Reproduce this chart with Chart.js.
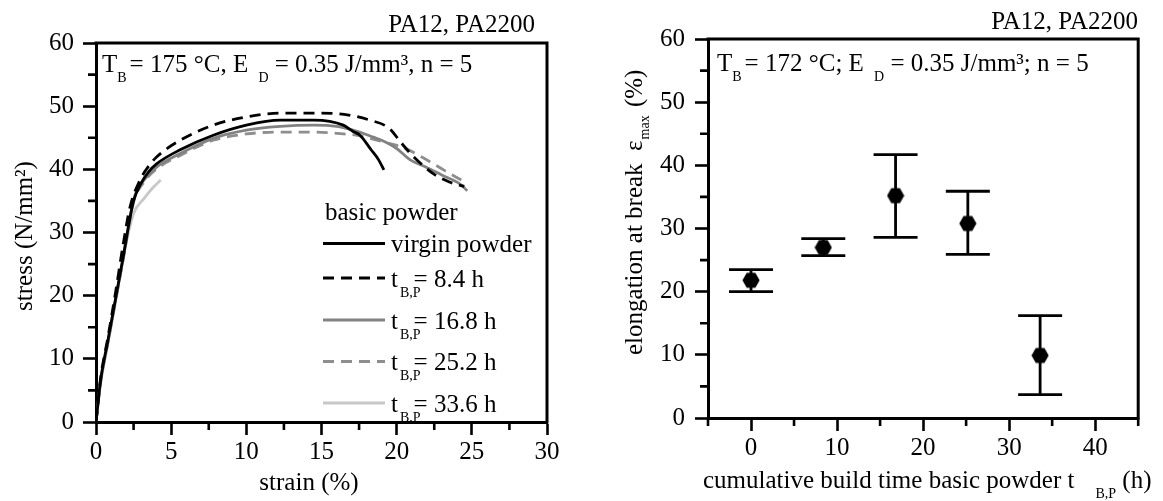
<!DOCTYPE html>
<html><head><meta charset="utf-8">
<script src="https://cdn.jsdelivr.net/npm/chart.js@4/dist/chart.umd.min.js"></script>
<style>
html,body{margin:0;padding:0;background:#fff;width:1163px;height:501px;overflow:hidden}
#c1{position:absolute;left:0;top:0}
#c2{position:absolute;left:580px;top:0}
</style></head><body>
<canvas id="c1" width="580" height="501"></canvas>
<canvas id="c2" width="583" height="501"></canvas>
<script>
// ---------- Left chart data: stress-strain curves ----------
const strainVirgin = [0,0.3,0.8,1.3,1.8,2.2,2.5,3.0,3.5,4.05,5.6,7.8,10.0,12.25,14.5,16.45,17.1,17.56,18.3,18.8,19.15];
const stressVirgin = [0,6.5,13,19.5,26,31.5,35.0,37.8,39.6,40.9,43.1,45.4,47.0,47.8,47.8,47.0,46.0,45.4,43.1,41.5,39.9];
const strain84 = [0,0.3,0.8,1.3,1.8,2.27,2.93,3.5,4.05,5.6,7.8,10.0,12.25,14.5,16.5,18.2,19.5,20.3,21.0,21.8,22.5,23.5,24.5];
const stress84 = [0,6.8,13.5,20.5,28,34.1,38.3,40.5,42,44.6,47.0,48.3,48.9,48.9,48.7,47.8,46.5,44.2,42.3,40.5,39.2,38.0,37.3];
const strain168 = [0,0.3,0.8,1.3,1.8,2.5,3.2,4.05,5.6,7.8,10.0,12.25,14.5,16.0,17.1,18.45,19.0,20.0,20.9,21.9,23.0,24.2,24.7];
const stress168 = [0,6.3,12.8,19.3,25.8,35.2,38.3,40.4,42.5,44.9,46.2,46.8,47.0,46.8,46.2,45.1,44.6,43.3,41.5,40.4,39.1,37.7,36.6];
const strain252 = [0,0.3,0.8,1.3,1.8,2.5,3.2,4.05,5.6,7.8,10.0,12.25,14.5,16.45,17.3,19.5,20.5,21.7,23.2,24.3];
const stress252 = [0,6.2,12.7,19.2,25.6,34.8,38.0,40.1,42.2,44.6,45.6,45.9,45.9,45.6,45.4,44.1,43.4,41.9,39.8,38.3];
const strain336 = [0,0.3,0.8,1.3,1.83,2.5,3.2,3.75,4.3];
const stress336 = [0,6,12.5,19,26.3,33.0,35.4,37.0,38.3];
const seriesNames = ['virgin powder','8.4 h','16.8 h','25.2 h','33.6 h'];
const leftXTicks = [0,5,10,15,20,25,30];
const leftYTicks = [0,10,20,30,40,50,60];

// ---------- Right chart data: elongation at break ----------
const buildTime = [0, 8.4, 16.8, 25.2, 33.6];
const elongMean = [21.8, 27.0, 35.2, 30.8, 9.9];
const elongLow  = [20.0, 25.7, 28.6, 25.9, 3.7];
const elongHigh = [23.5, 28.4, 41.7, 35.9, 16.2];
const rightXTicks = [0,10,20,30,40];
const rightYTicks = [0,10,20,30,40,50,60];

const FONT = '"Liberation Serif", "Times New Roman", serif';
const toXY = (xs, ys) => xs.map((x,i)=>({x, y: ys[i]}));

function drawRuns(ctx, runs, x, y, opt) {
  opt = opt || {};
  const size = opt.size || 25, sub = opt.subSize || 14, subDy = opt.subDy || 10;
  ctx.save();
  ctx.translate(x, y);
  if (opt.rot) ctx.rotate(opt.rot);
  ctx.fillStyle = '#000'; ctx.textBaseline = 'alphabetic'; ctx.textAlign = 'left';
  let total = 0;
  const w = runs.map(r => { ctx.font = (r.sub ? sub : size) + 'px ' + FONT; const m = ctx.measureText(r.t).width; total += (r.dx || 0) + m; return m; });
  let cx = opt.align === 'center' ? -total / 2 : opt.align === 'right' ? -total : 0;
  runs.forEach((r, i) => {
    cx += r.dx || 0;
    ctx.font = (r.sub ? sub : size) + 'px ' + FONT;
    ctx.fillText(r.t, cx, r.sub ? subDy : 0);
    cx += w[i];
  });
  ctx.restore();
}

function drawFrameAndMinor(chart, xMinor, yMinor) {
  const ctx = chart.ctx, a = chart.chartArea;
  const xs = chart.scales.x, ys = chart.scales.y;
  ctx.save();
  ctx.strokeStyle = '#000';
  ctx.lineWidth = 3;
  ctx.beginPath();
  ctx.moveTo(a.left - 1.5, a.top); ctx.lineTo(a.right, a.top); ctx.lineTo(a.right, a.bottom + 1.5);
  ctx.stroke();
  ctx.lineWidth = 2.6;
  ctx.beginPath();
  xMinor.forEach(v => { const p = xs.getPixelForValue(v); ctx.moveTo(p, a.bottom); ctx.lineTo(p, a.bottom + 8); });
  yMinor.forEach(v => { const p = ys.getPixelForValue(v); ctx.moveTo(a.left, p); ctx.lineTo(a.left - 8, p); });
  ctx.stroke();
  ctx.restore();
}

function axisCommon(min, max, tickVals, fit, pad) {
  return {
    type: 'linear', min, max,
    afterBuildTicks: s => { s.ticks = tickVals.map(v => ({value: v})); },
    afterFit: fit,
    ticks: { color: '#000', font: { family: FONT, size: 25 }, autoSkip: false, maxRotation: 0, padding: pad },
    grid: { display: true, drawOnChartArea: false, drawTicks: true, tickLength: 13, tickWidth: 2.6, tickColor: '#000' },
    border: { display: true, color: '#000', width: 3 }
  };
}

// ---------- Left chart ----------
const lineStyles = [
  { color: '#000000', dash: [] },
  { color: '#000000', dash: [11, 7] },
  { color: '#828282', dash: [] },
  { color: '#8e8e8e', dash: [11, 7] },
  { color: '#c8c8c8', dash: [] }
];
const leftData = [toXY(strainVirgin, stressVirgin), toXY(strain84, stress84), toXY(strain168, stress168), toXY(strain252, stress252), toXY(strain336, stress336)];

new Chart(document.getElementById('c1'), {
  type: 'scatter',
  data: {
    datasets: leftData.map((d, i) => ({
      label: seriesNames[i], data: d, showLine: true,
      borderColor: lineStyles[i].color, borderDash: lineStyles[i].dash, borderWidth: 2.8,
      pointRadius: 0, cubicInterpolationMode: 'monotone', fill: false
    }))
  },
  options: {
    responsive: false, animation: false, events: [],
    layout: { padding: { left: 0, top: 43, right: 33, bottom: 0 } },
    plugins: { legend: { display: false }, tooltip: { enabled: false } },
    scales: {
      x: axisCommon(0, 30, leftXTicks, s => { s.height = 79; }, 2),
      y: axisCommon(0, 60, leftYTicks, s => { s.width = 96; }, 9)
    }
  },
  plugins: [{
    id: 'decoLeft',
    afterDraw(chart) {
      const ctx = chart.ctx;
      drawFrameAndMinor(chart, [2.5,7.5,12.5,17.5,22.5,27.5], [5,15,25,35,45,55]);
      drawRuns(ctx, [{t: 'PA12, PA2200'}], 535, 32, { align: 'right' });
      drawRuns(ctx, [{t: 'T'}, {t: 'B', sub: true}, {t: '= 175 °C, E ', dx: 3}, {t: 'D', sub: true, dx: 4}, {t: ' = 0.35 J/mm³, n = 5'}], 102, 72);
      drawRuns(ctx, [{t: 'strain (%)'}], 309, 490, { align: 'center' });
      drawRuns(ctx, [{t: 'stress (N/mm²)'}], 32, 236, { align: 'center', rot: -Math.PI / 2 });
      // legend
      drawRuns(ctx, [{t: 'basic powder'}], 325, 220);
      const baselines = [252, 286.5, 328.5, 370, 411.5];
      baselines.forEach((b, i) => {
        const ly = b - 8.5;
        ctx.save();
        ctx.strokeStyle = lineStyles[i].color; ctx.lineWidth = 2.8; ctx.setLineDash(lineStyles[i].dash);
        ctx.beginPath(); ctx.moveTo(323, ly); ctx.lineTo(385, ly); ctx.stroke();
        ctx.restore();
        if (i === 0) drawRuns(ctx, [{t: seriesNames[0]}], 391, b);
        else drawRuns(ctx, [{t: 't'}, {t: 'B,P', sub: true, dx: 2}, {t: '= ' + seriesNames[i], dx: -7}], 391, b);
      });
    }
  }]
});

// ---------- Right chart ----------
const hex = document.createElement('canvas');
hex.width = 18; hex.height = 18;
(function(){
  const c = hex.getContext('2d'); c.fillStyle = '#000'; c.beginPath();
  for (let k = 0; k < 6; k++) { const ang = Math.PI / 3 * k; const px = 9 + 8.6 * Math.cos(ang), py = 9 + 8.6 * Math.sin(ang); k ? c.lineTo(px, py) : c.moveTo(px, py); }
  c.closePath(); c.fill();
})();

const errSets = buildTime.map((t, i) => ({
  data: [{x: t, y: elongLow[i]}, {x: t, y: elongHigh[i]}], showLine: true,
  borderColor: '#000', borderWidth: 2.8, pointStyle: 'line', pointRadius: 22, pointBorderWidth: 2.8,
  pointBorderColor: '#000', pointBackgroundColor: '#000'
}));

new Chart(document.getElementById('c2'), {
  type: 'scatter',
  data: {
    datasets: [{
      data: toXY(buildTime, elongMean), pointStyle: hex, pointRadius: 9, showLine: false
    }].concat(errSets)
  },
  options: {
    responsive: false, animation: false, events: [],
    layout: { padding: { left: 0, top: 39, right: 2, bottom: 0 } },
    plugins: { legend: { display: false }, tooltip: { enabled: false } },
    scales: {
      x: axisCommon(-5, 45, rightXTicks, s => { s.height = 83; }, 2),
      y: axisCommon(0, 60, rightYTicks, s => { s.width = 128; }, 10)
    }
  },
  plugins: [{
    id: 'decoRight',
    afterDraw(chart) {
      const ctx = chart.ctx;
      drawFrameAndMinor(chart, [-5,5,15,25,35,45], [5,15,25,35,45,55]);
      drawRuns(ctx, [{t: 'PA12, PA2200'}], 558, 28.5, { align: 'right' });
      drawRuns(ctx, [{t: 'T'}, {t: 'B', sub: true}, {t: '= 172 °C; E ', dx: 3}, {t: 'D', sub: true, dx: 4}, {t: ' = 0.35 J/mm³; n = 5'}], 137, 71);
      drawRuns(ctx, [{t: 'cumulative build time basic powder t'}, {t: 'B,P', sub: true, dx: 21}, {t: ' (h)', dx: 0}], 123, 488);
      drawRuns(ctx, [{t: 'elongation at break  ε'}, {t: 'max', sub: true, dx: 1}, {t: ' (%)', dx: 2}], 62, 355, { rot: -Math.PI / 2, subDy: 7 });
    }
  }]
});
</script></body></html>
